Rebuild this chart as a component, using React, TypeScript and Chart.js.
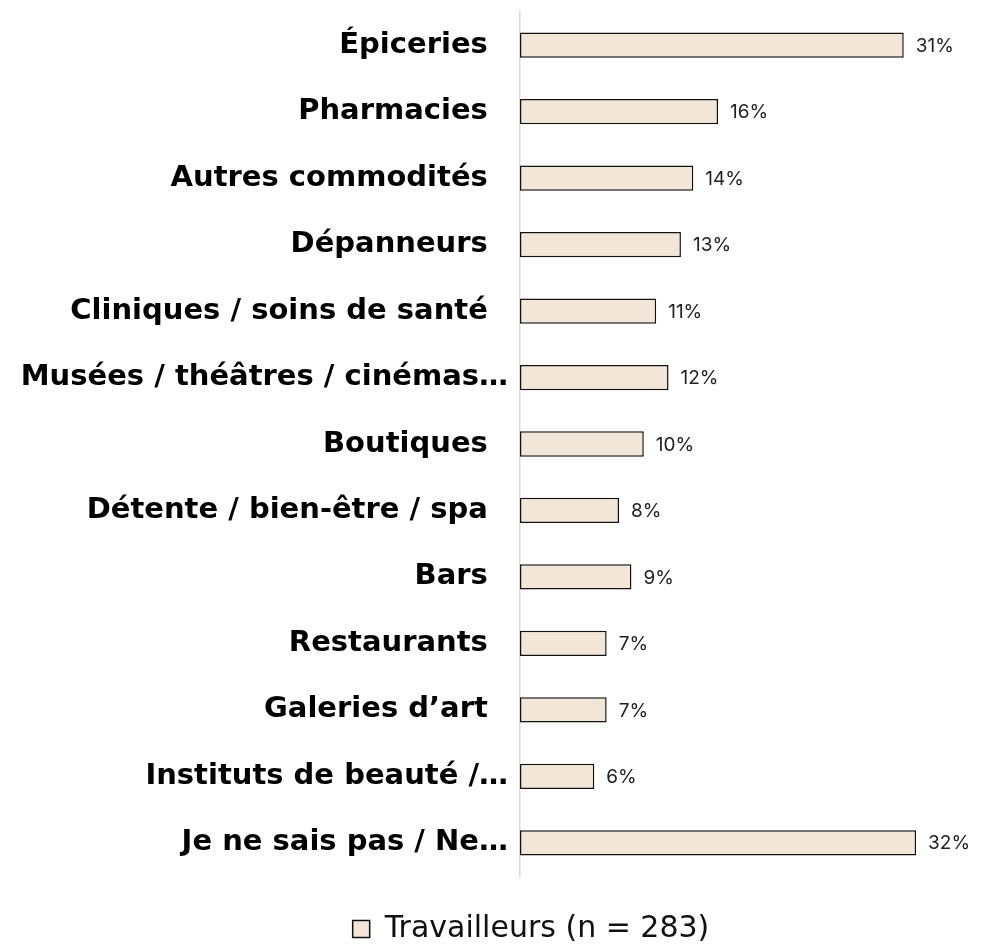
import React, { useEffect, useRef } from "react";
import { Chart, registerables } from "chart.js";

Chart.register(...registerables);

const categories: string[] = [
  "Épiceries",
  "Pharmacies",
  "Autres commodités",
  "Dépanneurs",
  "Cliniques / soins de santé",
  "Musées / théâtres / cinémas…",
  "Boutiques",
  "Détente / bien-être / spa",
  "Bars",
  "Restaurants",
  "Galeries d’art",
  "Instituts de beauté /…",
  "Je ne sais pas / Ne…",
];

const values: number[] = [31, 16, 14, 13, 11, 12, 10, 8, 9, 7, 7, 6, 32];

const seriesLabel = "Travailleurs (n = 283)";

const LABEL_FONT = "'DejaVu Sans', sans-serif";
const VALUE_FONT = "Inter, 'Open Sans', sans-serif";

const valueLabels = {
  id: "valueLabels",
  afterLayout(chart: any) {
    // the source legend is centred a little right of the canvas centre
    if (chart.legend) {
      chart.legend.left += 38;
      chart.legend.right += 38;
    }
  },
  afterDatasetsDraw(chart: any) {
    const ctx = chart.ctx;
    const meta = chart.getDatasetMeta(0);
    ctx.save();
    ctx.font = `400 19px ${VALUE_FONT}`;
    ctx.fillStyle = "#222222";
    ctx.textAlign = "left";
    ctx.textBaseline = "middle";
    meta.data.forEach((bar: any, i: number) => {
      const v = chart.data.datasets[0].data[i];
      ctx.fillText(`${v}%`, bar.x + 12, bar.y + 1);
    });
    ctx.restore();
  },
};

export default function App() {
  const ref = useRef<HTMLCanvasElement | null>(null);
  useEffect(() => {
    if (!ref.current) return;
    const chart = new Chart(ref.current, {
      type: "bar",
      data: {
        labels: categories,
        datasets: [
          {
            label: seriesLabel,
            data: values,
            backgroundColor: "#F3E6D9",
            borderColor: "#111111",
            borderWidth: 1.5,
            borderSkipped: false,
            categoryPercentage: 1,
            barPercentage: 0.38,
          },
        ],
      },
      options: {
        indexAxis: "y",
        animation: false,
        responsive: false,
        maintainAspectRatio: false,
        layout: { padding: { top: 4, right: 1, left: 0, bottom: 0 } },
        scales: {
          x: {
            display: false,
            min: 0,
            max: 37,
          },
          y: {
            afterFit: (s: any) => {
              s.width = 512;
              s.paddingTop = 0;
              s.paddingBottom = 0;
            },
            grid: { display: false, drawTicks: false },
            border: { display: true, color: "#D9D9D9", width: 1.5 },
            ticks: {
              padding: 12,
              color: "#000000",
              font: { family: LABEL_FONT, size: 29, weight: "bold" },
              // truncated labels sit closer to the axis, as in the source chart
              callback: (_v: any, i: number) =>
                categories[i].endsWith("…") ? categories[i] : categories[i] + "  ",
            },
          },
        },
        plugins: {
          tooltip: { enabled: false },
          legend: {
            position: "bottom",
            labels: {
              boxWidth: 17,
              boxHeight: 17,
              padding: 38,
              color: "#111111",
              font: { family: LABEL_FONT, size: 30 },
            },
          },
        },
      },
      plugins: [valueLabels],
    });
    return () => chart.destroy();
  }, []);
  return (
    <div style={{ width: 971, height: 934, overflow: "hidden" }}>
      <canvas ref={ref} width={971} height={946} style={{ display: "block" }} />
    </div>
  );
}
